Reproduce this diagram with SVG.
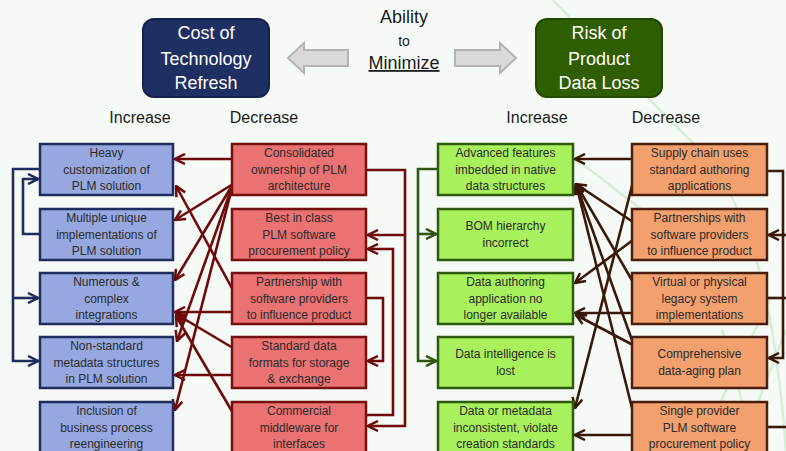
<svg xmlns="http://www.w3.org/2000/svg" width="786" height="451" viewBox="0 0 786 451">
<defs>
<style>
text{font-family:"Liberation Sans",Arial,sans-serif;}
.bt{font-size:12px;fill:#2a2a2a;text-anchor:middle;}
.ht{font-size:18px;fill:#ffffff;text-anchor:middle;}
.lab{font-size:16px;fill:#1a1a1a;text-anchor:middle;}
.blue{fill:#97a8e0;stroke:#1f2d5f;stroke-width:2.5;}
.red{fill:#ea7272;stroke:#741010;stroke-width:2.5;}
.grn{fill:#a8f05c;stroke:#2c5a0e;stroke-width:2.5;}
.org{fill:#f2a06e;stroke:#4a1e0c;stroke-width:2.5;}
.cn{fill:none;stroke-width:2.6;stroke-linejoin:miter;}
.cnav{stroke:#1f2d5c;}
.cred{stroke:#6e0a0a;}
.cgrn{stroke:#2f5512;}
.cbrn{stroke:#3a190a;}
.bg{fill:none;stroke:#c9e9c9;stroke-width:2.5;opacity:0.75;}
</style>
<marker id="an" viewBox="0 0 12 12" refX="11" refY="6" markerWidth="12" markerHeight="12" markerUnits="userSpaceOnUse" orient="auto"><path d="M1,1 L11,6 L1,11" fill="none" stroke="#1f2d5c" stroke-width="2.5"/></marker>
<marker id="ar" viewBox="0 0 12 12" refX="11" refY="6" markerWidth="12" markerHeight="12" markerUnits="userSpaceOnUse" orient="auto"><path d="M1,1 L11,6 L1,11" fill="none" stroke="#6e0a0a" stroke-width="2.5"/></marker>
<marker id="ag" viewBox="0 0 12 12" refX="11" refY="6" markerWidth="12" markerHeight="12" markerUnits="userSpaceOnUse" orient="auto"><path d="M1,1 L11,6 L1,11" fill="none" stroke="#2f5512" stroke-width="2.5"/></marker>
<marker id="ab" viewBox="0 0 12 12" refX="11" refY="6" markerWidth="12" markerHeight="12" markerUnits="userSpaceOnUse" orient="auto"><path d="M1,1 L11,6 L1,11" fill="none" stroke="#3a190a" stroke-width="2.5"/></marker>
</defs>
<rect x="0" y="0" width="786" height="451" fill="#f6faf6"/>
<g id="background">
<path class="bg" d="M553,0 C600,50 660,110 700,150 C740,195 760,260 772,330 C780,380 784,420 786,451"/>
<path class="bg" d="M578,162 C600,175 620,195 650,215"/>
<path class="bg" d="M700,451 C720,400 745,350 770,300"/>
<path class="bg" d="M722,330 C735,370 745,410 752,451"/>
<path class="bg" d="M740,451 C755,410 770,370 786,330"/>
</g>
<g id="title-arrows">
<polygon points="288,58 304,43 304,50 348,50 348,66 304,66 304,73" fill="#d9d9d9" stroke="#b3b3b3" stroke-width="2"/>
<polygon points="516,58 500,43 500,50 455,50 455,66 500,66 500,73" fill="#d9d9d9" stroke="#b3b3b3" stroke-width="2"/>
</g>
<g id="ability">
<text x="404" y="23" style="font-size:18px;fill:#1a1a1a;text-anchor:middle">Ability</text>
<text x="404" y="46" style="font-size:14px;fill:#1a1a1a;text-anchor:middle">to</text>
<text x="404" y="69" style="font-size:18px;fill:#1a1a1a;text-anchor:middle;text-decoration:underline">Minimize</text>
</g>
<g id="cost">
<rect x="143" y="19" width="126" height="78" rx="11" fill="#1f2e63" stroke="#15224a" stroke-width="2"/>
<text class="ht" x="206" y="39">Cost of</text>
<text class="ht" x="206" y="65">Technology</text>
<text class="ht" x="206" y="89">Refresh</text>
</g>
<g id="risk">
<rect x="536" y="19" width="126" height="78" rx="11" fill="#2e5e00" stroke="#234800" stroke-width="2"/>
<text class="ht" x="599" y="39">Risk of</text>
<text class="ht" x="599" y="65">Product</text>
<text class="ht" x="599" y="89">Data Loss</text>
</g>
<g id="labels">
<text class="lab" x="140" y="123">Increase</text>
<text class="lab" x="264" y="123">Decrease</text>
<text class="lab" x="537" y="123">Increase</text>
<text class="lab" x="666" y="123">Decrease</text>
</g>
<g id="connectors">
<path class="cn cnav" d="M40,169 H13 V361 H38" marker-end="url(#an)"/>
<path class="cn cnav" d="M13,298 H38" marker-end="url(#an)"/>
<path class="cn cnav" d="M40,234 H23 V179 H38" marker-end="url(#an)"/>
<path class="cn cred" d="M232,159 H175" marker-end="url(#ar)"/>
<path class="cn cred" d="M233,184 L175,220" marker-end="url(#ar)"/>
<path class="cn cred" d="M233,184 L175,280" marker-end="url(#ar)"/>
<path class="cn cred" d="M233,184 L177,341" marker-end="url(#ar)"/>
<path class="cn cred" d="M233,184 L175,410" marker-end="url(#ar)"/>
<path class="cn cred" d="M233,290 L176,186" marker-end="url(#ar)"/>
<path class="cn cred" d="M232,312 H175" marker-end="url(#ar)"/>
<path class="cn cred" d="M233,348 L176,314" marker-end="url(#ar)"/>
<path class="cn cred" d="M232,375 H175" marker-end="url(#ar)"/>
<path class="cn cred" d="M233,413 L176,316" marker-end="url(#ar)"/>
<path class="cn cred" d="M366,170 H405 V426 H368" marker-end="url(#ar)"/>
<path class="cn cred" d="M405,235 H368" marker-end="url(#ar)"/>
<path class="cn cred" d="M366,415 H393 V249 H368" marker-end="url(#ar)"/>
<path class="cn cred" d="M366,298 H383 V361 H368" marker-end="url(#ar)"/>
<path class="cn cgrn" d="M438,169 H418 V361 H436" marker-end="url(#ag)"/>
<path class="cn cgrn" d="M418,234 H436" marker-end="url(#ag)"/>
<path class="cn cbrn" d="M632,159 H575" marker-end="url(#ab)"/>
<path class="cn cbrn" d="M633,222 L576,184" marker-end="url(#ab)"/>
<path class="cn cbrn" d="M633,282 L576,184" marker-end="url(#ab)"/>
<path class="cn cbrn" d="M633,343 L576,184" marker-end="url(#ab)"/>
<path class="cn cbrn" d="M633,412 L576,184" marker-end="url(#ab)"/>
<path class="cn cbrn" d="M633,182 L575,408" marker-end="url(#ab)"/>
<path class="cn cbrn" d="M633,240 L575,283" marker-end="url(#ab)"/>
<path class="cn cbrn" d="M632,313 H575" marker-end="url(#ab)"/>
<path class="cn cbrn" d="M633,345 L576,315" marker-end="url(#ab)"/>
<path class="cn cbrn" d="M632,435 H575" marker-end="url(#ab)"/>
<path class="cn cbrn" d="M767,171 H783 V358 H769" marker-end="url(#ab)"/>
<path class="cn cbrn" d="M792,235 H769" marker-end="url(#ab)"/>
<path class="cn cbrn" d="M767,298 H792"/>
<path class="cn cbrn" d="M767,427 H792"/>
</g>
<g id="b1"><rect class="blue" x="40" y="144" width="133" height="51"/><text class="bt" x="106.5" y="157">Heavy</text><text class="bt" x="106.5" y="173.5">customization of</text><text class="bt" x="106.5" y="190">PLM solution</text></g>
<g id="b2"><rect class="blue" x="40" y="209" width="133" height="51"/><text class="bt" x="106.5" y="222">Multiple unique</text><text class="bt" x="106.5" y="238.5">implementations of</text><text class="bt" x="106.5" y="255">PLM solution</text></g>
<g id="b3"><rect class="blue" x="40" y="273" width="133" height="51"/><text class="bt" x="106.5" y="286">Numerous &amp;</text><text class="bt" x="106.5" y="302.5">complex</text><text class="bt" x="106.5" y="319">integrations</text></g>
<g id="b4"><rect class="blue" x="40" y="337" width="133" height="51"/><text class="bt" x="106.5" y="350">Non-standard</text><text class="bt" x="106.5" y="366.5">metadata structures</text><text class="bt" x="106.5" y="383">in PLM solution</text></g>
<g id="b5"><rect class="blue" x="40" y="402" width="133" height="51"/><text class="bt" x="106.5" y="415">Inclusion of</text><text class="bt" x="106.5" y="431.5">business process</text><text class="bt" x="106.5" y="448">reengineering</text></g>
<g id="r1"><rect class="red" x="232" y="144" width="134" height="51"/><text class="bt" x="299" y="157">Consolidated</text><text class="bt" x="299" y="173.5">ownership of PLM</text><text class="bt" x="299" y="190">architecture</text></g>
<g id="r2"><rect class="red" x="232" y="209" width="134" height="51"/><text class="bt" x="299" y="222">Best in class</text><text class="bt" x="299" y="238.5">PLM software</text><text class="bt" x="299" y="255">procurement policy</text></g>
<g id="r3"><rect class="red" x="232" y="273" width="134" height="51"/><text class="bt" x="299" y="286">Partnership with</text><text class="bt" x="299" y="302.5">software providers</text><text class="bt" x="299" y="319">to influence product</text></g>
<g id="r4"><rect class="red" x="232" y="337" width="134" height="51"/><text class="bt" x="299" y="350">Standard data</text><text class="bt" x="299" y="366.5">formats for storage</text><text class="bt" x="299" y="383">&amp; exchange</text></g>
<g id="r5"><rect class="red" x="232" y="402" width="134" height="51"/><text class="bt" x="299" y="415">Commercial</text><text class="bt" x="299" y="431.5">middleware for</text><text class="bt" x="299" y="448">interfaces</text></g>
<g id="g1"><rect class="grn" x="438" y="144" width="135" height="51"/><text class="bt" x="505.5" y="157">Advanced features</text><text class="bt" x="505.5" y="173.5">imbedded in native</text><text class="bt" x="505.5" y="190">data structures</text></g>
<g id="g2"><rect class="grn" x="438" y="209" width="135" height="51"/><text class="bt" x="505.5" y="230">BOM hierarchy</text><text class="bt" x="505.5" y="247">incorrect</text></g>
<g id="g3"><rect class="grn" x="438" y="273" width="135" height="51"/><text class="bt" x="505.5" y="286">Data authoring</text><text class="bt" x="505.5" y="302.5">application no</text><text class="bt" x="505.5" y="319">longer available</text></g>
<g id="g4"><rect class="grn" x="438" y="337" width="135" height="51"/><text class="bt" x="505.5" y="358">Data intelligence is</text><text class="bt" x="505.5" y="375">lost</text></g>
<g id="g5"><rect class="grn" x="438" y="402" width="135" height="51"/><text class="bt" x="505.5" y="415">Data or metadata</text><text class="bt" x="505.5" y="431.5">inconsistent, violate</text><text class="bt" x="505.5" y="448">creation standards</text></g>
<g id="o1"><rect class="org" x="632" y="144" width="135" height="51"/><text class="bt" x="699.5" y="157">Supply chain uses</text><text class="bt" x="699.5" y="173.5">standard authoring</text><text class="bt" x="699.5" y="190">applications</text></g>
<g id="o2"><rect class="org" x="632" y="209" width="135" height="51"/><text class="bt" x="699.5" y="222">Partnerships with</text><text class="bt" x="699.5" y="238.5">software providers</text><text class="bt" x="699.5" y="255">to influence product</text></g>
<g id="o3"><rect class="org" x="632" y="273" width="135" height="51"/><text class="bt" x="699.5" y="286">Virtual or physical</text><text class="bt" x="699.5" y="302.5">legacy system</text><text class="bt" x="699.5" y="319">implementations</text></g>
<g id="o4"><rect class="org" x="632" y="337" width="135" height="51"/><text class="bt" x="699.5" y="358">Comprehensive</text><text class="bt" x="699.5" y="375">data-aging plan</text></g>
<g id="o5"><rect class="org" x="632" y="402" width="135" height="51"/><text class="bt" x="699.5" y="415">Single provider</text><text class="bt" x="699.5" y="431.5">PLM software</text><text class="bt" x="699.5" y="448">procurement policy</text></g>
</svg>
